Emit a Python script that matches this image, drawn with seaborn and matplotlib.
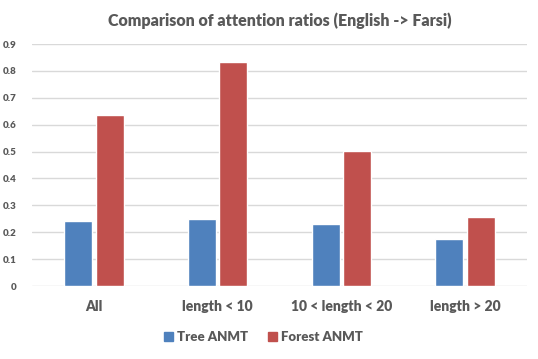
import pandas as pd
import numpy as np
import matplotlib.pyplot as plt
import seaborn as sns

categories = ['All', 'length < 10', '10 < length < 20', 'length > 20']
tree_anmt = [0.24, 0.25, 0.23, 0.175]
forest_anmt = [0.635, 0.833, 0.503, 0.257]
series = ['Tree ANMT', 'Forest ANMT']
colors = ['#4F81BD', '#C0504D']
yticks = [0, 0.1, 0.2, 0.3, 0.4, 0.5, 0.6, 0.7, 0.8, 0.9]
ytick_labels = ['0', '0.1', '0.2', '0.3', '0.4', '0.5', '0.6', '0.7', '0.8', '0.9']

df = pd.DataFrame({
    'category': categories * 2,
    'ratio': tree_anmt + forest_anmt,
    'model': [series[0]] * 4 + [series[1]] * 4,
})

sns.set_style('white')
plt.rcParams['font.family'] = ['Lato', 'DejaVu Sans']
txt = '#595959'
wt = 'heavy'

fig = plt.figure(figsize=(5.38, 3.59), dpi=100)
ax = fig.add_axes([0.0595, 0.2033, 0.92, 0.6741])

sns.barplot(data=df, x='category', y='ratio', hue='model', palette=colors,
            width=0.51, gap=0.11, saturation=1, ax=ax)

ax.set_ylim(0, 0.9)
ax.set_yticks(yticks)
ax.set_yticklabels(ytick_labels, fontsize=7, color=txt, fontweight=wt)
ax.set_xticks(range(len(categories)))
ax.set_xticklabels(categories, fontsize=10, color=txt, fontweight=wt)
ax.tick_params(axis='y', length=0, pad=11)
ax.tick_params(axis='x', length=0, pad=10)
ax.set_xlabel('')
ax.set_ylabel('')
ax.grid(axis='y', color='#D9D9D9', linewidth=1)
ax.set_axisbelow(True)
for s in ax.spines.values():
    s.set_visible(False)

ax.set_title('Comparison of attention ratios (English -> Farsi)', fontsize=11.5,
             color=txt, fontweight=wt, pad=13)

ax.get_legend().remove()
handles = [plt.Rectangle((0, 0), 1, 1, color=c) for c in colors]
fig.legend(handles, series, loc='center', bbox_to_anchor=(0.49, 0.062), ncol=2,
           frameon=False, handlelength=0.7, handleheight=0.7, handletextpad=0.3,
           columnspacing=1.5, prop={'size': 9.5, 'weight': wt}, labelcolor=txt)

fig.savefig('out.png', dpi=100)
